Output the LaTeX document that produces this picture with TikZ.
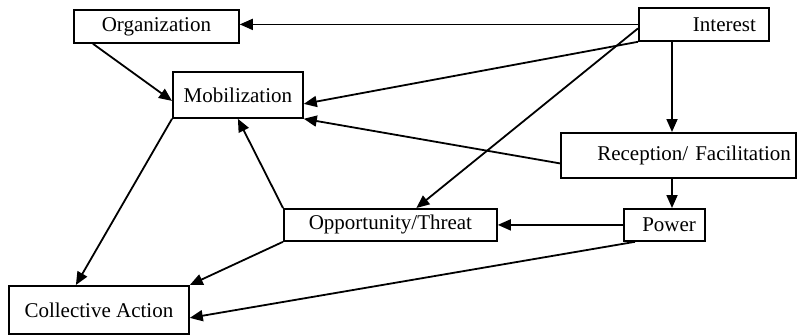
\documentclass[tikz,border=0pt]{standalone}
\usepackage{fontspec}
\setmainfont{Liberation Serif}
\usetikzlibrary{arrows.meta}

\begin{document}
\begin{tikzpicture}[x=1pt, y=-1pt,
  box/.style={draw, line width=1.8pt, anchor=north west, inner sep=0pt,
    font=\fontsize{21}{24}\selectfont},
  rbox/.style={box, align=right},
  arr/.style={line width=1.8pt, -{Triangle[length=13pt, width=11pt]}}]
  \useasboundingbox (0,0) rectangle (797,335);
  \node[box, minimum width=165pt, minimum height=33pt] (org) at (73,9) {Organization};
  \node[box, minimum width=130pt, minimum height=46pt] (mob) at (172,71) {Mobilization};
  \node[rbox, inner xsep=13pt, text width=104pt, minimum height=33pt] (int) at (638,7) {Interest};
  \node[rbox, inner xsep=5pt, text width=225pt, minimum height=45pt] (rec) at (560,132) {Reception/ Facilitation};
  \node[rbox, inner xsep=9pt, text width=63pt, minimum height=32pt] (pow) at (623,208) {Power};
  \node[box, minimum width=213pt, minimum height=32pt] (opp) at (283,208) {Opportunity/Threat};
  \node[box, minimum width=180pt, minimum height=48pt] (col) at (8,285) {Collective Action};
  \coordinate (spine) at (672,0);

  \draw[arr] (int.west) -- (int.west -| org.east);
  \draw[arr] ([xshift=20pt]org.south west) -- ([yshift=-6pt]mob.west);
  \draw[arr] (int.south west) -- ([yshift=-9pt]mob.east);
  \draw[arr] ([yshift=-8pt]rec.west) -- (mob.south east);
  \draw[arr] ([yshift=-4pt]int.west) -- ([xshift=26pt]opp.north);
  \draw[arr] (int.south -| spine) -- (rec.north -| spine);
  \draw[arr] (rec.south -| spine) -- (pow.north -| spine);
  \draw[arr] (pow.west) -- (opp.east);
  \draw[arr] (opp.north west) -- (mob.south);
  \draw[arr] (mob.south west) -- ([xshift=-23pt]col.north);
  \draw[arr] (opp.south west) -- (col.north east);
  \draw[arr] ([xshift=12pt]pow.south west) -- ([yshift=-8pt]col.east);
\end{tikzpicture}
\end{document}
